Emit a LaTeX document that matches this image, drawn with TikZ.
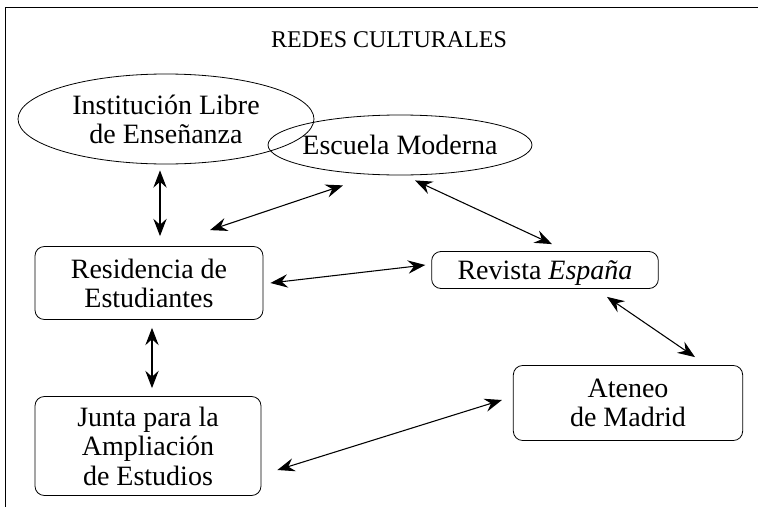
\documentclass[tikz,border=0pt]{standalone}
\usepackage{fontspec}
\setmainfont{Liberation Serif}
\usetikzlibrary{shapes.geometric,arrows.meta}

\begin{document}
\begin{tikzpicture}[
            x = 0.75pt, y = -0.75pt,
            every node/.style={text depth=0pt, align=center, font=\fontsize{21}{22}\selectfont},
            box/.style={draw, rounded corners=7pt, line width=.6pt, inner sep=0pt},
            ell/.style={draw, ellipse, line width=.6pt, inner sep=0pt},
            link/.style={line width=.8pt, {Stealth[length=13pt,width=10pt,inset=4.5pt]}-{Stealth[length=13pt,width=10pt,inset=4.5pt]}},
            ]
        \useasboundingbox (0,0) rectangle (758,507);
        \draw[line width=.7pt] (5,507) -- (5,7) -- (758,7);

        \node[font=\fontsize{18}{20}\selectfont] (title) at (389,40) {REDES CULTURALES};

        \node[ell, minimum width=222pt, minimum height=67.5pt] (ile) at (166,119) {Institución Libre\\de Enseñanza};
        \node[ell, minimum width=198pt, minimum height=45pt, inner xsep=-8pt] (esc) at (400,145) {Escuela Moderna};
        \node[box, minimum width=171pt, minimum height=54.75pt] (res) at (149,283) {Residencia de\\Estudiantes};
        \node[box, minimum width=170pt, minimum height=27.75pt] (rev) at (545,270) {Revista \textit{España}};
        \node[box, minimum width=169.5pt, minimum height=74.25pt] (jae) at (148,446) {Junta para la\\Ampliación\\de Estudios};
        \node[box, minimum width=172pt, minimum height=56.25pt] (ate) at (628,403) {Ateneo\\de Madrid};

        \draw[link] ([shift={(-6,6)}]ile.south) -- ([shift={(11,-10)}]res.north);
        \draw[link] ([shift={(61,-16)}]res.north) -- ([shift={(-57,10)}]esc.south);
        \draw[link] ([shift={(15,5)}]esc.south) -- ([shift={(7,-7)}]rev.north);
        \draw[link] ([shift={(7,0)}]res.east) -- ([shift={(-6,-5)}]rev.west);
        \draw[link] ([shift={(3,8)}]res.south) -- ([shift={(4,-8)}]jae.north);
        \draw[link] ([shift={(16,24)}]jae.east) -- ([shift={(-11,-3)}]ate.west);
        \draw[link] ([shift={(62,8)}]rev.south) -- ([shift={(67,-8)}]ate.north);

    \end{tikzpicture}
\end{document}
